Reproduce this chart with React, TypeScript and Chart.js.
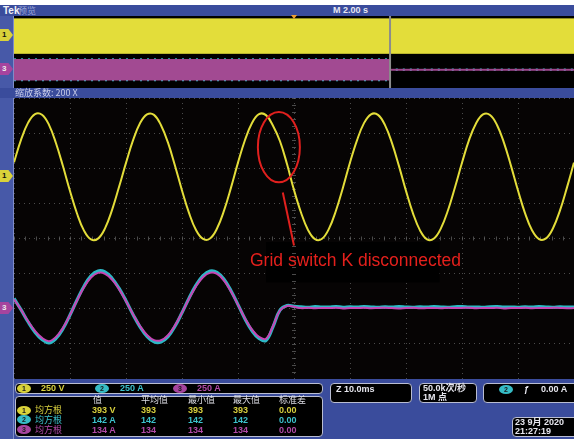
import React, { useEffect, useRef } from "react";
import { Chart, registerables } from "chart.js";

Chart.register(...registerables);

// ---------- data ----------
// channel scales from the readout
const voltsPerDiv = 250;
const ampsPerDiv = 250;
const ch1OffsetDiv = 1.76;
const ch23OffsetDiv = -1.97;

// zoom window: 10 ms/div, 10 divisions
const zoomTimesMs = [
  0, 1.25, 2.5, 3.75, 5, 6.25, 7.5, 8.75, 10, 11.25, 12.5, 13.75, 15, 16.25, 17.5, 18.75,
  20, 21.25, 22.5, 23.75, 25, 26.25, 27.5, 28.75, 30, 31.25, 32.5, 33.75, 35, 36.25, 37.5, 38.75,
  40, 41.25, 42.5, 43.75, 45, 46.25, 47.5, 48.75, 50, 51.25, 52.5, 53.75, 55, 56.25, 57.5, 58.75,
  60, 61.25, 62.5, 63.75, 65, 66.25, 67.5, 68.75, 70, 71.25, 72.5, 73.75, 75, 76.25, 77.5, 78.75,
  80, 81.25, 82.5, 83.75, 85, 86.25, 87.5, 88.75, 90, 91.25, 92.5, 93.75, 95, 96.25, 97.5, 98.75, 100,
];

// channel 1 grid voltage (V)
const ch1Volts = [
  102, 262, 383, 446, 441, 369, 238, 74, -102, -262, -384, -447, -441, -368, -238, -74,
  98, 258, 380, 443, 440, 366, 242, 78, -98, -258, -380, -443, -440, -369, -242, -78,
  100, 261, 382, 445, 438, 362, 252, 90, -95, -255, -379, -445, -442, -370, -241, -77,
  101, 259, 381, 444, 440, 367, 239, 75, -101, -261, -382, -446, -440, -366, -239, -75,
  99, 260, 379, 443, 439, 368, 241, 77, -99, -259, -381, -444, -439, -367, -240, -76,
  100,
];

// channel 2 current (A)
const ch2Amps = [
  66, -14, -100, -174, -226, -250, -219, -150, -52, 55,
  153, 226, 261, 254, 210, 139, 49, -48, -136, -204,
  -243, -244, -206, -132, -36, 67, 160, 228, 261, 252,
  203, 121, 22, -80, -164, -219, -233, -136, -18, 16,
  10,
  6, 3, 7, 4, 5, 8, 3, 6, 4, 7, 5, 2, 6, 4, 8, 5, 3, 6, 4, 7,
  5, 3, 6, 8, 4, 5, 2, 6, 7, 4, 5, 3, 6, 4, 7, 5, 3, 6, 4, 5,
];

// channel 3 current (A)
const ch3Amps = [
  60, -15, -95, -165, -215, -238, -208, -143, -51, 51,
  145, 215, 248, 241, 200, 132, 46, -46, -130, -194,
  -231, -232, -196, -126, -35, 63, 152, 217, 248, 240,
  193, 115, 20, -76, -156, -208, -221, -130, -20, 12,
  6,
  -3, -1, -4, -2, -3, 0, -5, -2, -3, -1, -4, -2, 0, -3, -5, -2, -1, -4, -3, -2,
  -4, -1, -3, -2, 0, -4, -2, -3, -1, -5, -2, -3, -1, -4, -2, -3, 0, -2, -4, -3,
];

// overview record: 2 s/div, envelopes of the traces
const overviewTimesSec = [0, 13.43, 13.43, 20];
const ch1EnvMax = [480, 480, 480, 480];
const ch1EnvMin = [-475, -475, -475, -475];
const ch3EnvMax = [285, 285, 12, 12];
const ch3EnvMin = [-285, -285, -12, -12];
const ch2EnvMax = [298, 298, 15, 15];
const ch2EnvMin = [-298, -298, -15, -15];
const zoomCenterSec = 13.43;

// readout tables
const measHeaders = ["值", "平均值", "最小值", "最大值", "标准差"];
const measRows = [
  { ch: "1", name: "均方根", vals: ["393 V", "393", "393", "393", "0.00"] },
  { ch: "2", name: "均方根", vals: ["142 A", "142", "142", "142", "0.00"] },
  { ch: "3", name: "均方根", vals: ["134 A", "134", "134", "134", "0.00"] },
];
const chScaleLabels = ["250 V", "250 A", "250 A"];
const annotationText = "Grid switch K disconnected";

// ---------- styles ----------
const YEL = "#e3dd3a";
const CYA = "#2cb9c6";
const MAG = "#c646b4";
const MAGBAND = "#a24a92";
const BLUE = "#3a4c9c";
const TXT_Y = "#d8d03e";
const TXT_C = "#3cc2cc";
const TXT_M = "#b24aa8";
const TXT_W = "#e6e6ee";
const FONT = '"Liberation Sans", "Noto Sans CJK SC", sans-serif';
const CJK = '"Noto Sans CJK SC", "Liberation Sans", sans-serif';
const chColors = [TXT_Y, TXT_C, TXT_M];
const badgeColors = ["#d9d23a", "#36bcc6", "#a6449e"];

const T = ({ x, y, c, s = 9, w = 700, f = FONT, lh = 10, children }: any) => (
  <div
    style={{
      position: "absolute",
      left: x,
      top: y,
      color: c,
      fontSize: s,
      fontWeight: w,
      fontFamily: f,
      lineHeight: lh + "px",
      whiteSpace: "nowrap",
    }}
  >
    {children}
  </div>
);

const Badge = ({ x, y, i }: any) => (
  <div
    style={{
      position: "absolute",
      left: x,
      top: y,
      width: 14,
      height: 9,
      borderRadius: "50%",
      background: badgeColors[i],
      color: "#1a1a1a",
      fontSize: 7,
      fontWeight: 700,
      fontFamily: FONT,
      lineHeight: "9px",
      textAlign: "center",
    }}
  >
    {String(i + 1)}
  </div>
);

const Marker = ({ y, bg, n, fg }: any) => (
  <div
    style={{
      position: "absolute",
      left: 0,
      top: y - 6,
      width: 13,
      height: 12,
      background: bg,
      color: fg,
      fontSize: 8,
      fontWeight: 700,
      fontFamily: FONT,
      lineHeight: "12px",
      paddingLeft: 2,
      boxSizing: "border-box",
      clipPath: "polygon(0 0, 65% 0, 100% 50%, 65% 100%, 0 100%)",
    }}
  >
    {n}
  </div>
);

const Box = ({ x, y, w, h }: any) => (
  <div
    style={{
      position: "absolute",
      left: x,
      top: y,
      width: w,
      height: h,
      background: "#000",
      border: "1px solid #b9bdd2",
      borderRadius: 4,
      boxSizing: "border-box",
    }}
  />
);

const gridColor = "rgba(105,105,105,0.7)";

const scopeDecor = {
  id: "scopeDecor",
  beforeDatasetsDraw(chart: any) {
    const { ctx, scales } = chart;
    const x = scales.x;
    const y = scales.y;
    ctx.save();
    // label backdrop
    ctx.fillStyle = "#000";
    const bx0 = x.getPixelForValue(45);
    const bx1 = x.getPixelForValue(76);
    const by0 = y.getPixelForValue(-0.1);
    const by1 = y.getPixelForValue(-1.25);
    ctx.fillRect(bx0, by0, bx1 - bx0, by1 - by0);
    // minor ticks on centre cross
    ctx.strokeStyle = gridColor;
    ctx.lineWidth = 1;
    const cx = x.getPixelForValue(50);
    const cy = y.getPixelForValue(0);
    ctx.beginPath();
    for (let v = -4; v <= 4.001; v += 0.2) {
      const py = Math.round(y.getPixelForValue(v)) + 0.5;
      ctx.moveTo(cx - 2, py);
      ctx.lineTo(cx + 2, py);
    }
    for (let t = 0; t <= 100.001; t += 2) {
      const px = Math.round(x.getPixelForValue(t)) + 0.5;
      ctx.moveTo(px, cy - 2);
      ctx.lineTo(px, cy + 2);
    }
    ctx.stroke();
    ctx.restore();
  },
  afterDatasetsDraw(chart: any) {
    const { ctx, scales } = chart;
    const x = scales.x;
    const y = scales.y;
    ctx.save();
    ctx.strokeStyle = "#e0201e";
    ctx.lineWidth = 2;
    const ecx = x.getPixelForValue(47.3);
    const ecy = y.getPixelForValue(2.6);
    const erx = x.getPixelForValue(47.3 + 3.75) - ecx;
    const ery = ecy - y.getPixelForValue(3.6);
    ctx.beginPath();
    ctx.ellipse(ecx, ecy, erx, ery, 0, 0, Math.PI * 2);
    ctx.stroke();
    ctx.beginPath();
    ctx.moveTo(x.getPixelForValue(48.0), y.getPixelForValue(1.31));
    ctx.lineTo(x.getPixelForValue(50.0), y.getPixelForValue(-0.2));
    ctx.stroke();
    ctx.restore();
  },
};

export default function App() {
  const mainRef = useRef<HTMLCanvasElement | null>(null);
  const ovRef = useRef<HTMLCanvasElement | null>(null);

  useEffect(() => {
    const vDiv = (v: number) => v / voltsPerDiv + ch1OffsetDiv;
    const aDiv = (a: number) => a / ampsPerDiv + ch23OffsetDiv;

    const lineDs = (data: any[], color: string, width: number, extra: any = {}) => ({
      data,
      borderColor: color,
      backgroundColor: color,
      borderWidth: width,
      pointRadius: 0,
      fill: false,
      ...extra,
    });

    const main = new Chart(mainRef.current as HTMLCanvasElement, {
      type: "line",
      data: {
        datasets: [
          lineDs(zoomTimesMs.map((t, i) => ({ x: t, y: vDiv(ch1Volts[i]) })), YEL, 2, { tension: 0.4 }),
          lineDs(zoomTimesMs.map((t, i) => ({ x: t, y: aDiv(ch3Amps[i]) })), MAG, 2, { tension: 0.4 }),
          lineDs(zoomTimesMs.map((t, i) => ({ x: t, y: aDiv(ch2Amps[i]) })), CYA, 3.2, { tension: 0.4 }),
        ],
      },
      options: {
        animation: false,
        responsive: false,
        maintainAspectRatio: false,
        events: [],
        layout: { padding: 0 },
        plugins: { legend: { display: false }, tooltip: { enabled: false } },
        scales: {
          x: {
            type: "linear",
            min: 0,
            max: 100,
            ticks: { display: false, stepSize: 10 },
            grid: { color: gridColor, lineWidth: 1, drawTicks: false },
            border: { display: false, dash: [1, 4] },
          },
          y: {
            type: "linear",
            min: -4,
            max: 4,
            ticks: { display: false, stepSize: 1 },
            grid: { color: gridColor, lineWidth: 1, drawTicks: false },
            border: { display: false, dash: [1, 4] },
          },
        },
      },
      plugins: [scopeDecor],
    } as any);

    const pts = (vals: number[], conv: (n: number) => number) =>
      overviewTimesSec.map((t, i) => ({ x: t, y: conv(vals[i]) }));

    const ov = new Chart(ovRef.current as HTMLCanvasElement, {
      type: "line",
      data: {
        datasets: [
          lineDs(
            [
              { x: zoomCenterSec, y: -4 },
              { x: zoomCenterSec, y: 4 },
            ],
            "#8c8c8c",
            2
          ),
          lineDs(pts(ch1EnvMax, vDiv), YEL, 1, { fill: 2, backgroundColor: YEL }),
          lineDs(pts(ch1EnvMin, vDiv), YEL, 1),
          lineDs(pts(ch3EnvMax, aDiv), MAGBAND, 1, { fill: 4, backgroundColor: MAGBAND }),
          lineDs(pts(ch3EnvMin, aDiv), MAGBAND, 1),
          lineDs(pts(ch2EnvMax, aDiv), CYA, 1.5, { borderDash: [2, 5] }),
          lineDs(pts(ch2EnvMin, aDiv), CYA, 1.5, { borderDash: [2, 5] }),
        ],
      },
      options: {
        animation: false,
        responsive: false,
        maintainAspectRatio: false,
        events: [],
        layout: { padding: 0 },
        plugins: { legend: { display: false }, tooltip: { enabled: false } },
        scales: {
          x: { type: "linear", min: 0, max: 20, display: false },
          y: { type: "linear", min: -4, max: 4, display: false },
        },
      },
    } as any);

    return () => {
      main.destroy();
      ov.destroy();
    };
  }, []);

  const colX = [92, 141, 188, 233, 279];
  const rowY = [405, 414.5, 424.5];

  return (
    <div
      style={{
        position: "fixed",
        left: 0,
        top: 0,
        width: 574,
        height: 439,
        background: "#fff",
        overflow: "hidden",
        fontFamily: FONT,
      }}
    >
      {/* top bar */}
      <div style={{ position: "absolute", left: 0, top: 5, width: 574, height: 11, background: BLUE }} />
      <T x={3} y={5} c="#f2f2f6" s={10} lh={11}>Tek</T>
      <T x={18} y={5} c="#9aa6d8" s={9} w={400} f={CJK} lh={11}>预览</T>
      <T x={333} y={5} c="#e8e8f2" s={9} lh={11}>M 2.00 s</T>

      {/* left strip */}
      <div style={{ position: "absolute", left: 0, top: 16, width: 14, height: 423, background: "#4759a8", borderRight: "1px solid #7f8cc8", boxSizing: "border-box" }} />

      {/* overview */}
      <div style={{ position: "absolute", left: 14, top: 16, width: 560, height: 72, background: "#000" }} />
      <canvas ref={ovRef} width={560} height={72} style={{ position: "absolute", left: 14, top: 16, width: 560, height: 72 }} />
      <div
        style={{
          position: "absolute",
          left: 291,
          top: 15,
          width: 0,
          height: 0,
          borderLeft: "3px solid transparent",
          borderRight: "3px solid transparent",
          borderTop: "4px solid #f0a030",
        }}
      />
      <Marker y={35} bg="#d9d23a" fg="#111" n="1" />
      <Marker y={69} bg="#a6449e" fg="#eee" n="3" />

      {/* zoom bar */}
      <div style={{ position: "absolute", left: 0, top: 88, width: 574, height: 10, background: BLUE }} />
      <T x={15} y={88} c="#c8cce8" s={9} w={400} f={CJK} lh={10}>缩放系数: 200 X</T>

      {/* main zoom window */}
      <div style={{ position: "absolute", left: 14, top: 98, width: 560, height: 281, background: "#060404" }} />
      <canvas ref={mainRef} width={560} height={281} style={{ position: "absolute", left: 14, top: 98, width: 560, height: 281 }} />
      <Marker y={176} bg="#d9d23a" fg="#111" n="1" />
      <Marker y={308} bg="#a6449e" fg="#eee" n="3" />
      <div
        style={{
          position: "absolute",
          left: 250,
          top: 250,
          color: "#e4201c",
          fontFamily: '"Liberation Sans", Arial, sans-serif',
          fontSize: 17.5,
          lineHeight: "20px",
          whiteSpace: "nowrap",
        }}
      >
        {annotationText}
      </div>

      {/* bottom readout panel */}
      <div style={{ position: "absolute", left: 14, top: 379, width: 560, height: 60, background: BLUE }} />
      <Box x={15} y={383} w={308} h={11} />
      {chScaleLabels.map((l, i) => (
        <React.Fragment key={"s" + i}>
          <Badge x={[17, 95, 173][i]} y={384} i={i} />
          <T x={[41, 120, 197][i]} y={383} c={chColors[i]} s={9} lh={11}>{l}</T>
        </React.Fragment>
      ))}

      <Box x={15} y={396} w={308} h={41} />
      {measHeaders.map((h, i) => (
        <T key={"h" + i} x={colX[i] + (i === 0 ? 1 : 0)} y={395} c="#dedee6" s={9} w={400} f={CJK} lh={10}>{h}</T>
      ))}
      {measRows.map((r, ri) => (
        <React.Fragment key={"r" + ri}>
          <Badge x={17} y={rowY[ri] + 0.5} i={ri} />
          <T x={35} y={rowY[ri]} c={chColors[ri]} s={9} w={400} f={CJK} lh={10}>{r.name}</T>
          {r.vals.map((v, ci) => (
            <T key={ci} x={colX[ci]} y={rowY[ri]} c={chColors[ri]} s={9} lh={10}>{v}</T>
          ))}
        </React.Fragment>
      ))}

      <Box x={330} y={383} w={82} h={20} />
      <T x={336} y={384} c={TXT_W} s={9} lh={10}>Z 10.0ms</T>

      <Box x={419} y={383} w={58} h={20} />
      <T x={423} y={383} c={TXT_W} s={9} lh={10}>50.0k次/秒</T>
      <T x={423} y={392} c={TXT_W} s={9} lh={10}>1M 点</T>

      <Box x={483} y={383} w={100} h={20} />
      <Badge x={499} y={385} i={1} />
      <T x={524} y={384} c={TXT_W} s={9} lh={10}>ƒ</T>
      <T x={541} y={384} c={TXT_W} s={9} lh={10}>0.00 A</T>

      <Box x={512} y={417} w={70} h={20} />
      <T x={515} y={417} c={TXT_W} s={9} lh={10}>23 9月  2020</T>
      <T x={515} y={426} c={TXT_W} s={9} lh={10}>21:27:19</T>
    </div>
  );
}
